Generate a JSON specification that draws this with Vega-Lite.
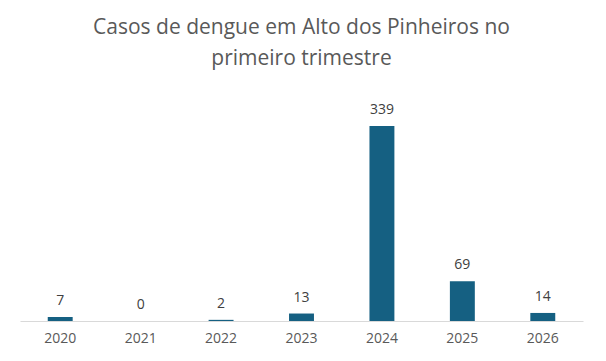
{
  "$schema": "https://vega.github.io/schema/vega-lite/v6.json",
  "width": 563,
  "height": 230,
  "autosize": {"type": "none"},
  "padding": {"left": 20, "top": 91, "right": 23, "bottom": 40},
  "background": "white",
  "title": {
    "text": ["Casos de dengue em Alto dos Pinheiros no", "primeiro trimestre"],
    "fontSize": 21,
    "font": "Open Sans",
    "fontWeight": "normal",
    "color": "#595959",
    "anchor": "middle",
    "lineHeight": 31,
    "offset": 22
  },
  "data": {
    "values": [
      {"ano": "2020", "casos": 7},
      {"ano": "2021", "casos": 0},
      {"ano": "2022", "casos": 2},
      {"ano": "2023", "casos": 13},
      {"ano": "2024", "casos": 339},
      {"ano": "2025", "casos": 69},
      {"ano": "2026", "casos": 14}
    ]
  },
  "encoding": {
    "x": {
      "field": "ano",
      "type": "ordinal",
      "scale": {"paddingInner": 0.69, "paddingOuter": 0.345},
      "axis": {
        "title": null,
        "labelAngle": 0,
        "ticks": false,
        "domainColor": "#d9d9d9",
        "labelFont": "Open Sans",
        "labelFontSize": 14,
        "labelColor": "#595959",
        "labelPadding": 10
      }
    },
    "y": {
      "field": "casos",
      "type": "quantitative",
      "scale": {"domain": [0, 400]},
      "axis": null
    }
  },
  "layer": [
    {"mark": {"type": "bar", "color": "#156082"}},
    {
      "mark": {"type": "text", "dy": -12, "baseline": "alphabetic", "font": "Open Sans", "fontSize": 14, "color": "#404040"},
      "encoding": {"text": {"field": "casos", "type": "quantitative"}}
    }
  ],
  "config": {"view": {"stroke": null}}
}
